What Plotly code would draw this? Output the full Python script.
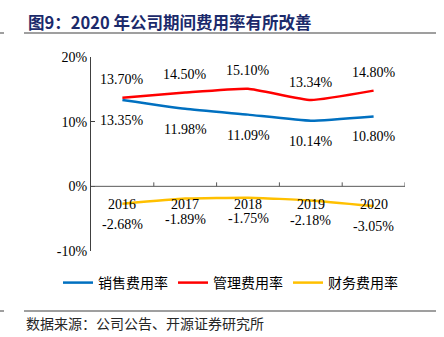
import plotly.graph_objects as go

years = ["2016", "2017", "2018", "2019", "2020"]
sales = [13.35, 11.98, 11.09, 10.14, 10.80]
admin = [13.70, 14.50, 15.10, 13.34, 14.80]
finance = [-2.68, -1.89, -1.75, -2.18, -3.05]
names = ["销售费用率", "管理费用率", "财务费用率"]
colors = ["#0070C0", "#FF0000", "#FFC000"]
y_ticks = [-10, 0, 10, 20]
y_ticklabels = ["-10%", "0%", "10%", "20%"]

SERIF = "Liberation Serif, Times New Roman, serif"
CJK = "Noto Sans CJK SC"

L, R, T, B = 91, 405, 57, 251
PW, PH = R - L, B - T


def px_x(px):
    return (px - L) / PW


def px_y(py):
    return (B - py) / PH


fig = go.Figure()
for name, vals, col in zip(names, [sales, admin, finance], colors):
    fig.add_trace(go.Scatter(
        x=list(range(len(years))), y=vals, name=name, mode="lines",
        line=dict(color=col, width=2.5, shape="spline", smoothing=0.4),
    ))

annotations = []
for vals, shift in [(admin, 18), (sales, -20.5), (finance, -20.5)]:
    for i, v in enumerate(vals):
        annotations.append(dict(
            x=i, y=v, xref="x", yref="y", text=f"{v:.2f}%", showarrow=False,
            yshift=shift, font=dict(family=SERIF, size=14, color="#000000"),
        ))

# category labels under the zero line
for i, yr in enumerate(years):
    annotations.append(dict(
        x=i, y=0, xref="x", yref="y", text=yr, showarrow=False,
        yshift=-18, font=dict(family=SERIF, size=14, color="#000000"),
    ))

annotations.append(dict(
    xref="paper", yref="paper", x=px_x(26), y=px_y(22), xanchor="left", yanchor="middle",
    text="<b>图9：2020 年公司期间费用率有所改善</b>", showarrow=False,
    font=dict(family=CJK, size=16.5, color="#1B2A6B"),
))
annotations.append(dict(
    xref="paper", yref="paper", x=px_x(24), y=px_y(323), xanchor="left", yanchor="middle",
    text="数据来源：公司公告、开源证券研究所", showarrow=False,
    font=dict(family=CJK, size=14, color="#262626"),
))

shapes = []
# zero line acting as the category axis, with ticks on the boundaries
shapes.append(dict(type="line", xref="x", yref="y", x0=-0.5, x1=len(years) - 0.5,
                   y0=0, y1=0, line=dict(color="#595959", width=1)))
for k in range(len(years)):
    shapes.append(dict(type="line", xref="x", yref="y", ysizemode="pixel", yanchor=0,
                       x0=k + 0.5, x1=k + 0.5, y0=0, y1=4,
                       line=dict(color="#595959", width=1)))
# rule lines above and below the chart
for yy in [33, 311]:
    for x0, x1 in [(24, 436), (0, 4)]:
        shapes.append(dict(type="line", xref="paper", yref="paper",
                           x0=px_x(x0), x1=px_x(x1), y0=px_y(yy), y1=px_y(yy),
                           line=dict(color="#7F7F7F", width=1.5)))

fig.update_layout(
    width=444, height=337,
    margin=dict(l=L, r=444 - R, t=T, b=337 - B, autoexpand=False),
    plot_bgcolor="white", paper_bgcolor="white",
    showlegend=True,
    legend=dict(orientation="h", xref="paper", yref="paper",
                x=px_x(58), y=px_y(283), xanchor="left", yanchor="middle",
                font=dict(family=CJK, size=14, color="#000000"),
                entrywidth=70, entrywidthmode="pixels",
                bgcolor="rgba(0,0,0,0)"),
    xaxis=dict(range=[-0.5, len(years) - 0.5], visible=False, showgrid=False,
               zeroline=False),
    yaxis=dict(range=[-10, 20], tickvals=y_ticks, ticktext=y_ticklabels,
               showline=True, linecolor="#404040", linewidth=1,
               ticks="inside", ticklen=4, tickcolor="#404040",
               showgrid=False, zeroline=False,
               tickfont=dict(family=SERIF, size=14, color="#000000")),
    annotations=annotations,
    shapes=shapes,
)

fig.write_html("out.html")
